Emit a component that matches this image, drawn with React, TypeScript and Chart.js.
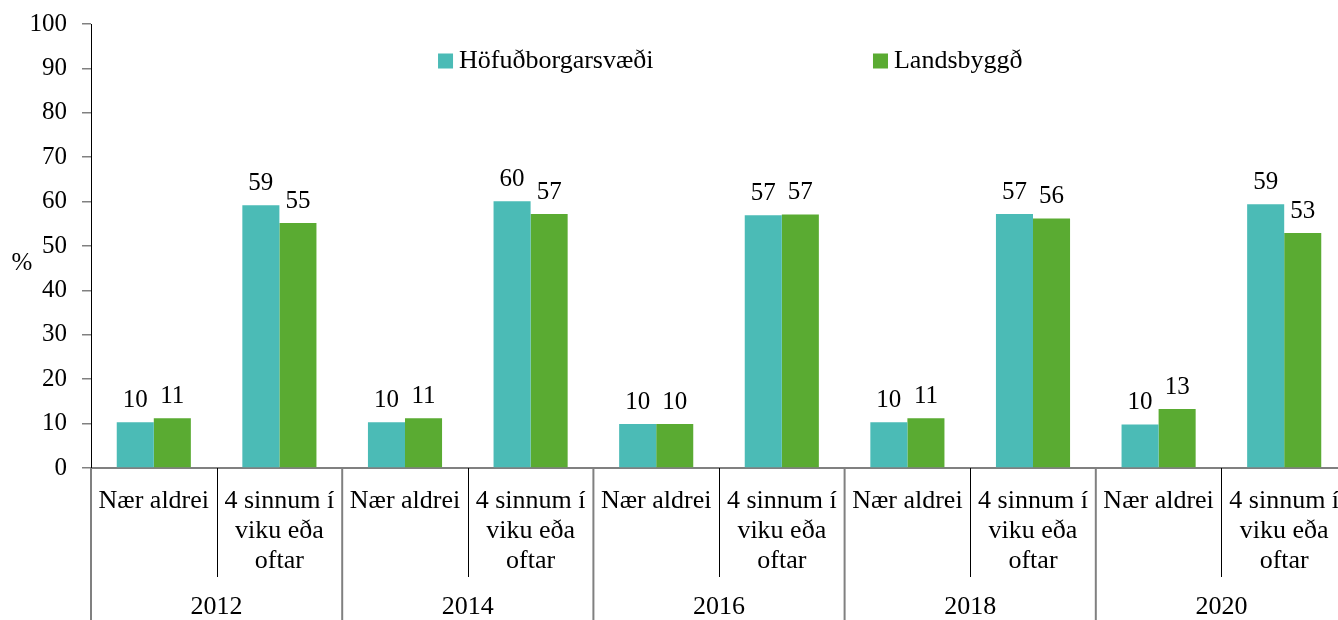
import { useEffect, useRef } from 'react';
import { Chart, registerables } from 'chart.js';

Chart.register(...registerables);

const years = ['2012', '2014', '2016', '2018', '2020'];
const answers = [['Nær aldrei'], ['4 sinnum í', 'viku eða', 'oftar']];
const seriesNames = ['Höfuðborgarsvæði', 'Landsbyggð'];
const capitalValues = [10.3, 59.2, 10.3, 60.1, 9.9, 56.9, 10.3, 57.2, 9.8, 59.4];
const ruralValues = [11.2, 55.2, 11.2, 57.2, 9.9, 57.1, 11.2, 56.2, 13.3, 52.9];
const yTickValues = [0, 10, 20, 30, 40, 50, 60, 70, 80, 90, 100];
const yUnit = '%';

const FONT = "'Liberation Serif', 'Times New Roman', serif";
const COLORS = ['#4BBBB6', '#5AAB32'];

const categories: string[][] = [];
years.forEach(() => answers.forEach((a) => categories.push(a)));

const overlay = {
  id: 'overlay',
  afterDraw(chart: any) {
    const { ctx, chartArea } = chart;
    const xs = chart.scales.x;
    const n = categories.length;
    const cw = xs.width / n;
    const axisY = chartArea.bottom;
    ctx.save();
    // data labels
    ctx.font = `25px ${FONT}`;
    ctx.fillStyle = '#000';
    ctx.textAlign = 'center';
    ctx.textBaseline = 'alphabetic';
    chart.data.datasets.forEach((ds: any, d: number) => {
      const meta = chart.getDatasetMeta(d);
      meta.data.forEach((bar: any, i: number) => {
        ctx.fillText(String(Math.round(ds.data[i])), bar.x, bar.y - 15);
      });
    });
    // y unit
    ctx.fillText(yUnit, 22, chartArea.top + (chartArea.bottom - chartArea.top) * 0.553);
    // category labels
    ctx.font = `26px ${FONT}`;
    categories.forEach((lines, i) => {
      const cx = xs.getPixelForValue(i);
      lines.forEach((ln, k) => {
        ctx.fillText(ln, cx, axisY + 40 + k * 30);
      });
    });
    // year labels
    const per = answers.length;
    years.forEach((yr, g) => {
      const cx = xs.left + (g * per + per / 2) * cw;
      ctx.fillText(yr, cx, axisY + 146);
    });
    // separators
    for (let i = 0; i <= n; i++) {
      const x = xs.left + i * cw;
      if (i % per === 0) {
        ctx.strokeStyle = '#808080';
        ctx.lineWidth = 2;
        ctx.beginPath();
        ctx.moveTo(x, axisY);
        ctx.lineTo(x, chart.height);
        ctx.stroke();
      } else {
        ctx.strokeStyle = '#000';
        ctx.lineWidth = 1;
        ctx.beginPath();
        ctx.moveTo(Math.round(x) + 0.5, axisY);
        ctx.lineTo(Math.round(x) + 0.5, axisY + 109);
        ctx.stroke();
      }
    }
    // legend
    const legendX = [0.2763, 0.6226];
    const ly = chartArea.top + 37;
    chart.data.datasets.forEach((ds: any, d: number) => {
      const x = chartArea.left + legendX[d] * chartArea.width;
      ctx.fillStyle = ds.backgroundColor;
      ctx.fillRect(x, ly - 7.5, 15, 15);
      ctx.fillStyle = '#000';
      ctx.textAlign = 'left';
      ctx.textBaseline = 'middle';
      ctx.fillText(ds.label, x + 21, ly);
    });
    ctx.restore();
  },
};

export default function App() {
  const ref = useRef<HTMLCanvasElement>(null);
  useEffect(() => {
    if (!ref.current) return;
    const chart = new Chart(ref.current, {
      type: 'bar',
      data: {
        labels: categories.map((c) => c.join(' ')),
        datasets: [
          { label: seriesNames[0], data: capitalValues, backgroundColor: COLORS[0], borderWidth: 0 },
          { label: seriesNames[1], data: ruralValues, backgroundColor: COLORS[1], borderWidth: 0 },
        ],
      },
      options: {
        animation: false,
        responsive: false,
        layout: { padding: { top: 24, right: 1, left: 0, bottom: 0 } },
        datasets: { bar: { categoryPercentage: 0.59, barPercentage: 1 } },
        plugins: { legend: { display: false }, tooltip: { enabled: false } },
        scales: {
          x: {
            grid: { display: false },
            border: { display: true, color: '#808080', width: 2 },
            ticks: { display: false },
            afterFit: (s: any) => {
              s.height = 152;
            },
          },
          y: {
            min: 0,
            max: 100,
            afterBuildTicks: (s: any) => {
              s.ticks = yTickValues.map((v) => ({ value: v }));
            },
            grid: { display: true, drawOnChartArea: false, drawTicks: true, tickLength: 9, color: '#808080', lineWidth: 1.5 },
            border: { display: true, color: '#000', width: 1 },
            ticks: { font: { family: FONT, size: 25 }, color: '#000', padding: 15 },
            afterFit: (s: any) => {
              s.width = 91;
              s.paddingTop = 0;
              s.paddingBottom = 0;
            },
          },
        },
      },
      plugins: [overlay],
    });
    return () => chart.destroy();
  }, []);
  return (
    <div style={{ position: 'fixed', left: 0, top: 0, width: 1338, height: 620, overflow: 'hidden', background: '#fff' }}>
      <canvas ref={ref} width={1348} height={620} style={{ display: 'block' }} />
    </div>
  );
}
